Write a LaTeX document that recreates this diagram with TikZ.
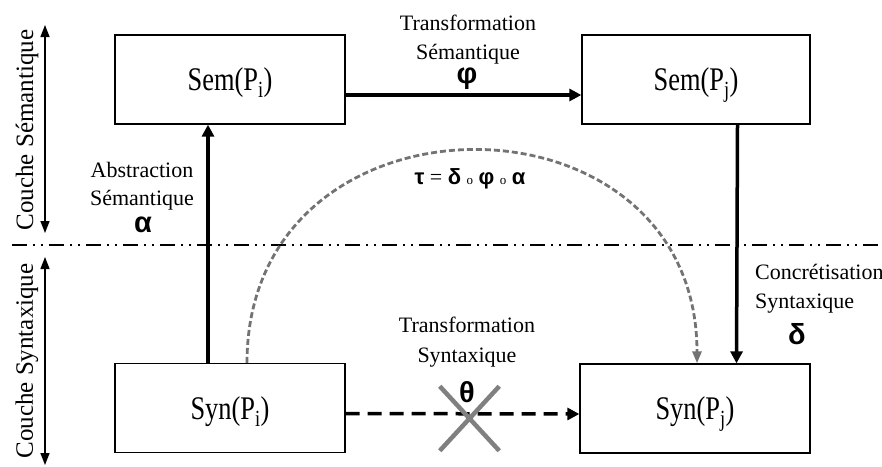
\documentclass[tikz,border=0pt]{standalone}
\usepackage{graphicx}
\usepackage{fontspec}
\setmainfont{Liberation Serif}
\newfontfamily\grec{Liberation Sans}
\usetikzlibrary{arrows.meta,positioning,shapes.misc}
\newcommand{\serre}[1]{\scalebox{0.8}[1]{#1}}
\newcommand{\gr}[1]{{\grec\bfseries #1}}

\begin{document}
\begin{tikzpicture}[x=1pt,y=-1pt,
  boite/.style={draw,line width=1.3pt,minimum width=230pt,minimum height=89pt,inner sep=0pt,text depth=0pt,font=\fontsize{33}{36}\selectfont},
  petit/.style={font=\fontsize{22}{24}\selectfont,inner sep=0pt,anchor=base},
  lettre/.style={font=\grec\bfseries\fontsize{29}{30}\selectfont,inner sep=0pt},
  couchetxt/.style={font=\fontsize{25}{27}\selectfont,inner sep=0pt,rotate=90},
  fleche/.style={line width=3.5pt,-{Triangle[length=12pt,width=12pt]}},
  tirets/.style={line width=3.5pt,dash pattern=on 14pt off 8pt,-{Triangle[length=12pt,width=12pt]}},
  arcgris/.style={black!55,line width=2.8pt,dash pattern=on 6pt off 3pt,-{Triangle[length=12pt,width=9pt]}},
  couche/.style={line width=1.4pt,{Triangle[length=12pt,width=9pt]}-{Triangle[length=12pt,width=9pt]}},
  mixte/.style={line width=1.4pt,dash pattern=on 15pt off 6pt on 2pt off 6pt on 2pt off 6pt},
  croix/.style={cross out,draw=gray,line width=4.5pt,minimum width=55pt,minimum height=60pt,inner sep=0pt}]
\useasboundingbox (0,0) rectangle (882,466);

\node[boite] (semi) at (230,79.5) {\serre{Sem(P\textsubscript{i})}};
\node[boite,minimum width=228pt] (semj) at (696,79.5) {\serre{Sem(P\textsubscript{j})}};
\node[boite] (syni) at (230,408) {\serre{Syn(P\textsubscript{i})}};
\node[boite] (synj) at (695,408.5) {\serre{Syn(P\textsubscript{j})}};

\draw[mixte] (12,245) -- (882,245);

\coordinate (semh) at (45,25);
\coordinate (semb) at (45,233);
\coordinate (synh) at (45,257);
\coordinate (synb) at (45,465);
\draw[couche] (semh) -- (semb);
\draw[couche] (synh) -- (synb);
\node[couchetxt] (tsem) at (27,130) {Couche Sémantique};
\node[couchetxt] (tsyn) at (27,361) {Couche Syntaxique};

\draw[fleche] ([xshift=-22pt]syni.north) -- ([xshift=-22pt]semi.south);
\draw[fleche] ([yshift=-15.5pt]semi.east) -- ([yshift=-15.5pt]semj.west);
\draw[fleche] ([xshift=41.5pt]semj.south) -- ([xshift=41.5pt]synj.north);
\draw[tirets] ([yshift=-5.5pt]syni.east) -- ([yshift=-5.5pt]synj.west);
\node[croix] (barre) at (469.5,418.5) {};
\draw[arcgris] ([xshift=17pt]syni.north) .. controls +(0,-283) and +(0,-283) .. ([xshift=2pt]synj.north);

\node[petit] (ts1) at (468,30) {Transformation};
\node[petit] (ts2) at (468,59) {Sémantique};
\node[lettre] (phi) at (467,79) {φ};
\node[petit] (as1) at (142,177) {Abstraction};
\node[petit] (as2) at (142,205) {Sémantique};
\node[lettre] (alpha) at (143,225) {α};
\node[petit,anchor=base west] (cs1) at (755,279) {Concrétisation};
\node[petit,anchor=base west] (cs2) at (755,308) {Syntaxique};
\node[lettre] (delta) at (797,334) {δ};
\node[petit] (tx1) at (467,332) {Transformation};
\node[petit] (tx2) at (467,362) {Syntaxique};
\node[lettre] (theta) at (467,392) {θ};
\node[petit] (tau) at (470,184) {\gr{τ} = \gr{δ} {\fontsize{13}{14}\selectfont o} \gr{φ} {\fontsize{13}{14}\selectfont o} \gr{α}};
\end{tikzpicture}
\end{document}
